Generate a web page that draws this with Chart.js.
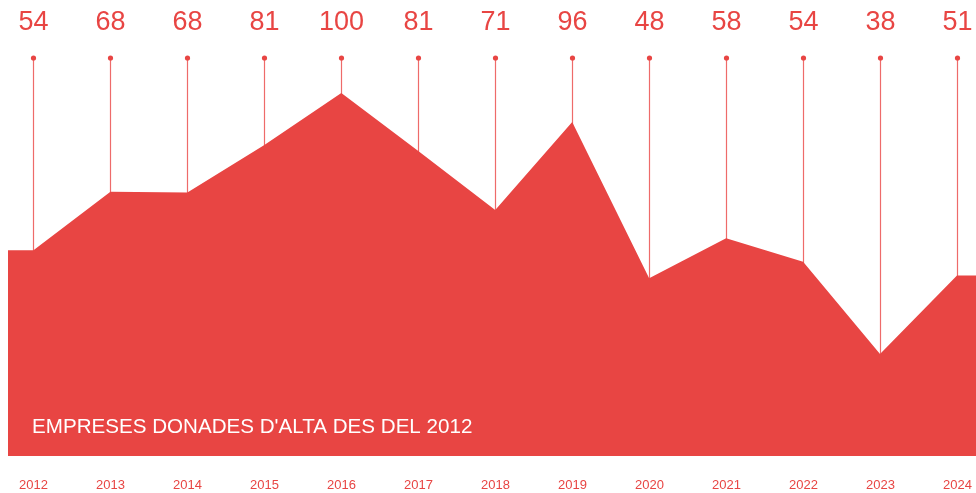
<!DOCTYPE html>
<html>
<head>
<meta charset="utf-8">
<script src="https://cdn.jsdelivr.net/npm/chart.js@4/dist/chart.umd.min.js"></script>
<style>
html,body{margin:0;padding:0;background:#fff;}
#wrap{width:976px;height:493px;position:relative;}
</style>
</head>
<body>
<div id="wrap"><canvas id="c" width="976" height="493"></canvas></div>
<script>
// Years (categories)
const years = [2012,2013,2014,2015,2016,2017,2018,2019,2020,2021,2022,2023,2024];
// Labelled values shown above each year
const values = [54,68,68,81,100,81,71,96,48,58,54,38,51];
// Height of the red area at each year (same scale, 0..100)
const areaLevels = [56.7,72.8,72.6,85.7,100,84.0,67.8,92.0,49.0,60.0,53.5,28.1,49.7];
const title = "EMPRESES DONADES D'ALTA DES DEL 2012";

const RED = '#e84543';
const LINE_RED = '#ee6b6a';
const FONT = '"Liberation Sans", Arial, sans-serif';

// area points (with flat extensions to the chart edges)
const xMin = 2011.669, xMax = 2024.247;
const pts = years.map((y,i)=>({x:y, y:areaLevels[i]}));
pts.unshift({x:xMin, y:areaLevels[0]});
pts.push({x:xMax, y:areaLevels[areaLevels.length-1]});

const decor = {
  id:'decor',
  beforeDatasetsDraw(chart){
    const {ctx, scales:{x}} = chart;
    ctx.save();
    ctx.strokeStyle = LINE_RED;
    ctx.lineWidth = 1.2;
    years.forEach((yr)=>{
      const px = Math.round(x.getPixelForValue(yr)) + 0.5;
      ctx.beginPath();
      ctx.moveTo(px, 58);
      ctx.lineTo(px, chart.chartArea.bottom);
      ctx.stroke();
    });
    ctx.restore();
  },
  afterDatasetsDraw(chart){
    const {ctx, scales:{x}} = chart;
    ctx.save();
    years.forEach((yr,i)=>{
      const px = Math.round(x.getPixelForValue(yr)) + 0.5;
      // dot
      ctx.fillStyle = RED;
      ctx.beginPath();
      ctx.arc(px, 58, 2.6, 0, Math.PI*2);
      ctx.fill();
      // value label
      ctx.font = '27px ' + FONT;
      ctx.textAlign = 'center';
      ctx.textBaseline = 'alphabetic';
      ctx.fillText(String(values[i]), px, 29.5);
      // year label
      ctx.font = '13px ' + FONT;
      ctx.fillText(String(yr), px, 489);
    });
    // title inside area
    ctx.fillStyle = '#ffffff';
    ctx.font = '20.6px ' + FONT;
    ctx.textAlign = 'left';
    ctx.fillText(title, 32, 433);
    ctx.restore();
  }
};

new Chart(document.getElementById('c'), {
  type:'line',
  data:{
    datasets:[{
      data: pts,
      fill: 'origin',
      backgroundColor: RED,
      borderColor: RED,
      borderWidth: 0,
      pointRadius: 0,
      tension: 0
    }]
  },
  options:{
    responsive:false,
    animation:false,
    layout:{padding:{left:8,right:0,top:93,bottom:37}},
    plugins:{legend:{display:false},tooltip:{enabled:false}},
    scales:{
      x:{type:'linear', min:xMin, max:xMax, display:false},
      y:{min:0, max:100, display:false}
    }
  },
  plugins:[decor]
});
</script>
</body>
</html>
